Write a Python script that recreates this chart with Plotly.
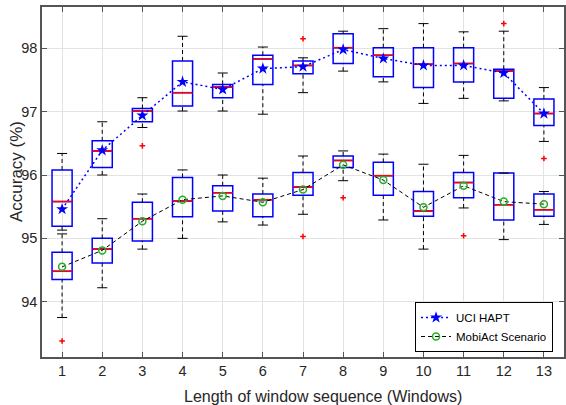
import plotly.graph_objects as go

windows = list(range(1, 14))
tick_labels = [str(w) for w in windows]

# UCI HAPT
uci_lo   = [95.13, 96.00, 96.75, 97.01, 97.01, 96.96, 97.30, 97.64, 97.47, 97.13, 97.21, 97.17, 96.53]
uci_q1   = [95.19, 96.12, 96.84, 97.09, 97.22, 97.43, 97.60, 97.76, 97.55, 97.38, 97.47, 97.21, 96.78]
uci_med  = [95.58, 96.38, 97.01, 97.30, 97.39, 97.83, 97.73, 98.01, 97.89, 97.75, 97.76, 97.64, 96.97]
uci_q3   = [96.08, 96.54, 97.05, 97.80, 97.43, 97.89, 97.80, 98.23, 98.01, 98.01, 98.01, 97.67, 97.20]
uci_hi   = [96.34, 96.84, 97.22, 98.19, 97.61, 98.02, 97.85, 98.27, 98.31, 98.39, 98.26, 98.27, 97.38]
uci_mean = [95.46, 96.39, 96.94, 97.47, 97.35, 97.68, 97.71, 97.98, 97.84, 97.73, 97.73, 97.61, 96.97]
uci_out_x = [3, 7, 12, 13]
uci_out_y = [96.46, 98.15, 98.39, 96.26]

# MobiAct Scenario
mob_lo   = [93.75, 94.22, 94.83, 95.00, 95.26, 95.21, 95.38, 95.91, 95.29, 94.83, 95.48, 94.98, 95.22]
mob_q1   = [94.35, 94.61, 94.96, 95.34, 95.43, 95.34, 95.68, 96.12, 95.68, 95.35, 95.64, 95.29, 95.35]
mob_med  = [94.48, 94.83, 95.31, 95.59, 95.72, 95.61, 95.81, 96.23, 95.99, 95.43, 95.88, 95.53, 95.45]
mob_q3   = [94.78, 95.00, 95.57, 95.96, 95.83, 95.70, 96.04, 96.30, 96.20, 95.74, 96.04, 96.03, 95.70]
mob_hi   = [95.07, 95.31, 95.70, 96.08, 96.00, 95.95, 96.30, 96.38, 96.33, 96.17, 96.31, 96.03, 95.74]
mob_mean = [94.55, 94.81, 95.27, 95.61, 95.67, 95.57, 95.77, 96.16, 95.92, 95.49, 95.83, 95.58, 95.54]
mob_out_x = [1, 7, 8, 11]
mob_out_y = [93.38, 95.03, 95.64, 95.04]

BOX_W = 0.5
CAP_W = 0.25
FONT = "Liberation Sans, Arial, sans-serif"

fig = go.Figure()


def segs(xs, y0s, y1s):
    X, Y = [], []
    for x, a, b in zip(xs, y0s, y1s):
        X += [x, x, None]
        Y += [a, b, None]
    return X, Y


def hsegs(xs, ys, half):
    X, Y = [], []
    for x, y in zip(xs, ys):
        X += [x - half, x + half, None]
        Y += [y, y, None]
    return X, Y


for lo, q1, med, q3, hi in [(uci_lo, uci_q1, uci_med, uci_q3, uci_hi),
                            (mob_lo, mob_q1, mob_med, mob_q3, mob_hi)]:
    X1, Y1 = segs(windows, q3, hi)
    X2, Y2 = segs(windows, lo, q1)
    fig.add_trace(go.Scatter(x=X1 + X2, y=Y1 + Y2, mode="lines",
                             line=dict(color="black", width=1, dash="4px,3px"),
                             showlegend=False, hoverinfo="skip"))
    X3, Y3 = hsegs(windows, hi, CAP_W / 2)
    X4, Y4 = hsegs(windows, lo, CAP_W / 2)
    fig.add_trace(go.Scatter(x=X3 + X4, y=Y3 + Y4, mode="lines",
                             line=dict(color="black", width=1),
                             showlegend=False, hoverinfo="skip"))
    fig.add_trace(go.Box(x=windows, q1=q1, median=med, q3=q3,
                         lowerfence=q1, upperfence=q3, width=BOX_W,
                         line=dict(color="#0000ff", width=1.5),
                         fillcolor="rgba(0,0,0,0)", boxpoints=False,
                         showlegend=False, hoverinfo="skip"))
    X5, Y5 = hsegs(windows, med, BOX_W / 2)
    fig.add_trace(go.Scatter(x=X5, y=Y5, mode="lines",
                             line=dict(color="#ff0000", width=1.5),
                             showlegend=False, hoverinfo="skip"))

fig.add_trace(go.Scatter(x=uci_out_x + mob_out_x, y=uci_out_y + mob_out_y, mode="markers",
                         marker=dict(symbol="cross-thin", size=4,
                                     line=dict(color="#ff0000", width=1.5)),
                         showlegend=False, hoverinfo="skip"))

fig.add_trace(go.Scatter(x=windows, y=uci_mean, mode="lines+markers", name="UCI HAPT",
                         line=dict(color="#0000ff", width=1.5, dash="2px,3px"),
                         marker=dict(symbol="star", size=9, color="#0000ff")))
fig.add_trace(go.Scatter(x=windows, y=mob_mean, mode="lines+markers", name="MobiAct Scenario",
                         line=dict(color="black", width=1, dash="4px,3px"),
                         marker=dict(symbol="circle-open", size=7, color="#22b022",
                                     line=dict(color="#22b022", width=1.5))))

axis_common = dict(showline=True, mirror="ticks", linecolor="#555555", linewidth=1.5,
                   ticks="inside", ticklen=5, tickcolor="#555555", tickwidth=1,
                   showgrid=True, gridcolor="#e3e3e3", gridwidth=1, zeroline=False,
                   tickfont=dict(family=FONT, size=14.5, color="#262626"))

fig.update_layout(
    width=566, height=405,
    margin=dict(l=42, r=0, t=7, b=48),
    paper_bgcolor="white", plot_bgcolor="white",
    font=dict(family=FONT, color="#262626"),
    boxmode="overlay",
    xaxis=dict(range=[0.5, 13.5], tickvals=windows, ticktext=tick_labels, **axis_common),
    yaxis=dict(range=[93.127, 98.652], tickvals=[94, 95, 96, 97, 98],
               ticktext=["94", "95", "96", "97", "98"], **axis_common),
    legend=dict(x=0.979, y=0.0143, xanchor="right", yanchor="bottom",
                bgcolor="white", bordercolor="black", borderwidth=1,
                font=dict(family=FONT, size=11.5, color="black"),
                itemwidth=30, tracegroupgap=0),
    annotations=[
        dict(text="Length of window sequence (Windows)", xref="paper", yref="paper",
             x=0.538, y=-0.114, xanchor="center", yanchor="middle", showarrow=False,
             font=dict(family=FONT, size=16, color="#262626")),
        dict(text="Accuracy (%)", xref="paper", yref="paper", textangle=-90,
             x=-0.05, y=0.531, xanchor="center", yanchor="middle", showarrow=False,
             font=dict(family=FONT, size=17, color="#262626")),
    ],
)

fig.write_html("out.html")
